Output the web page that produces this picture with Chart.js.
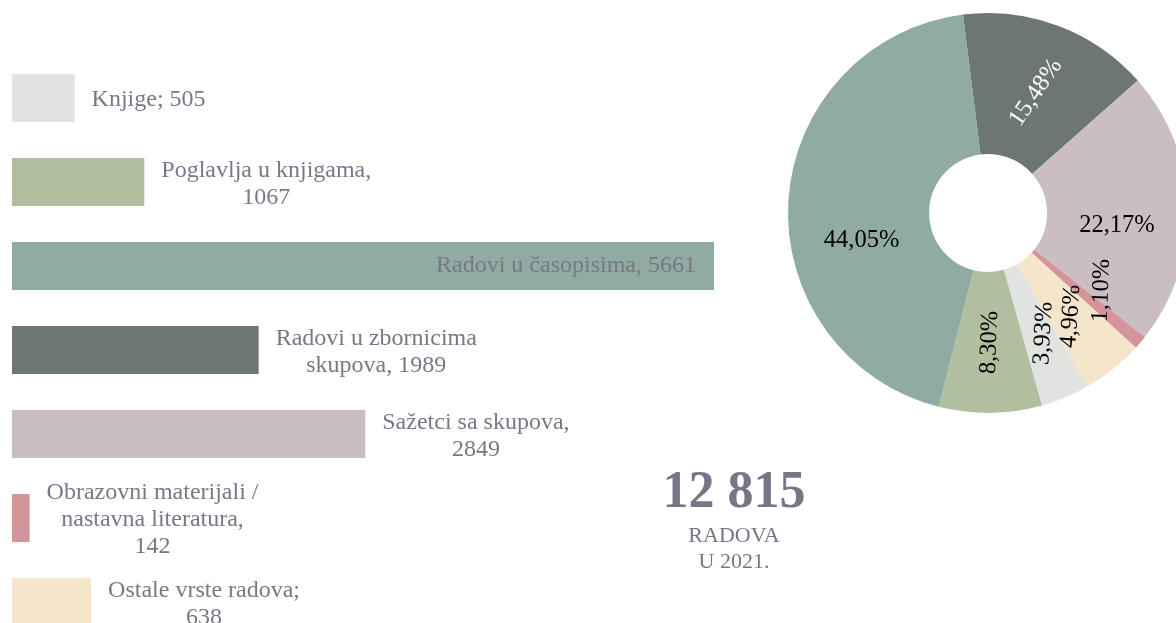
<!DOCTYPE html>
<html>
<head>
<meta charset="utf-8">
<script src="https://cdn.jsdelivr.net/npm/chart.js@4"></script>
<style>
  html, body { margin: 0; padding: 0; background: #fff; }
  body { width: 1176px; height: 623px; overflow: hidden; position: relative; font-family: "Liberation Serif", "Times New Roman", serif; }
  #bars-wrap { position: absolute; left: 0; top: 0; width: 756px; height: 660px; }
  #donut-wrap { position: absolute; left: 778px; top: 3px; width: 420px; height: 420px; }
  .total { position: absolute; left: 634px; width: 200px; text-align: center; color: #757786; }
  #total-num { top: 464px; font-size: 52px; line-height: 52px; font-weight: bold; }
  #total-sub { top: 522px; font-size: 22px; line-height: 26px; }
</style>
</head>
<body>
<div id="bars-wrap"><canvas id="barChart"></canvas></div>
<div id="donut-wrap"><canvas id="donutChart"></canvas></div>
<div class="total" id="total-num">12 815</div>
<div class="total" id="total-sub">RADOVA<br>U 2021.</div>

<script>
const categories = ['Knjige', 'Poglavlja u knjigama', 'Radovi u časopisima', 'Radovi u zbornicima skupova',
  'Sažetci sa skupova', 'Obrazovni materijali / nastavna literatura', 'Ostale vrste radova'];
const counts = [505, 1067, 5661, 1989, 2849, 142, 638];
const barLabels = [
  ['Knjige; 505'],
  ['Poglavlja u knjigama,', '1067'],
  ['Radovi u časopisima, 5661'],
  ['Radovi u zbornicima', 'skupova, 1989'],
  ['Sažetci sa skupova,', '2849'],
  ['Obrazovni materijali /', 'nastavna literatura,', '142'],
  ['Ostale vrste radova;', '638']
];
const colors = ['#e1e3e0', '#b1bf9f', '#90aba2', '#6c7771', '#cbbec2', '#d4959a', '#f5e6cb'];

const textGray = '#777988';
const labelFont = '24px "Liberation Serif", "Times New Roman", serif';

// bar labels: outside the bar end, except the long one which sits inside
const barLabelPlugin = {
  id: 'barLabels',
  afterDatasetsDraw(chart) {
    const ctx = chart.ctx;
    const bars = chart.getDatasetMeta(0).data;
    ctx.save();
    ctx.font = labelFont;
    ctx.fillStyle = textGray;
    ctx.textBaseline = 'middle';
    const lineH = 27;
    bars.forEach((bar, i) => {
      const lines = barLabels[i];
      const top = bar.y + 2 - (lines.length - 1) * lineH / 2;
      if (i === 2) {
        ctx.textAlign = 'right';
        ctx.fillText(lines[0], bar.x - 18, bar.y);
        return;
      }
      const w = Math.max(...lines.map(l => ctx.measureText(l).width));
      const cx = bar.x + 17 + w / 2;
      ctx.textAlign = 'center';
      lines.forEach((l, k) => ctx.fillText(l, cx, top + k * lineH));
    });
    ctx.restore();
  }
};

new Chart(document.getElementById('barChart'), {
  type: 'bar',
  data: {
    labels: categories,
    datasets: [{
      data: counts,
      backgroundColor: colors,
      borderWidth: 0,
      categoryPercentage: 1,
      barPercentage: 0.571
    }]
  },
  options: {
    indexAxis: 'y',
    responsive: true,
    maintainAspectRatio: false,
    animation: false,
    layout: { padding: { left: 12, top: 56, right: 0, bottom: 16 } },
    scales: {
      x: { display: false, min: 0, max: 6000 },
      y: { display: false }
    },
    plugins: { legend: { display: false }, tooltip: { enabled: false } }
  },
  plugins: [barLabelPlugin]
});

// percentage labels on the donut
const total = counts.reduce((a, b) => a + b, 0);
const pctLabels = counts.map(v => (v / total * 100).toFixed(2).replace('.', ',') + '%');
// rotation of each label in degrees, angular nudge and radial nudge
const pctRotation = [-87, -88, 0, -56, 0, -88, -86];
const pctShift = [-2, 0, -16, 1, 7, -6, 0];
const pctPush = [3, 0, 0, 0, 0, 8, 3];
const pctColor = ['#000', '#000', '#000', '#fff', '#000', '#000', '#000'];

const donutLabelPlugin = {
  id: 'donutLabels',
  afterDatasetsDraw(chart) {
    const ctx = chart.ctx;
    const arcs = chart.getDatasetMeta(0).data;
    ctx.save();
    ctx.font = '24.5px "Liberation Serif", "Times New Roman", serif';
    ctx.textAlign = 'center';
    ctx.textBaseline = 'middle';
    arcs.forEach((arc, i) => {
      const p = arc.getProps(['x', 'y', 'startAngle', 'endAngle', 'innerRadius', 'outerRadius']);
      const a = (p.startAngle + p.endAngle) / 2 + pctShift[i] * Math.PI / 180;
      const r = (p.innerRadius + p.outerRadius) / 2 + pctPush[i];
      ctx.save();
      ctx.translate(p.x + Math.cos(a) * r, p.y + Math.sin(a) * r);
      ctx.rotate(pctRotation[i] * Math.PI / 180);
      ctx.fillStyle = pctColor[i];
      ctx.fillText(pctLabels[i], 0, 0);
      ctx.restore();
    });
    ctx.restore();
  }
};

new Chart(document.getElementById('donutChart'), {
  type: 'doughnut',
  data: {
    labels: categories,
    datasets: [{
      data: counts,
      backgroundColor: colors,
      borderWidth: 0
    }]
  },
  options: {
    responsive: true,
    maintainAspectRatio: false,
    animation: false,
    rotation: 150.2,
    cutout: '29.5%',
    layout: { padding: 10 },
    plugins: { legend: { display: false }, tooltip: { enabled: false } }
  },
  plugins: [donutLabelPlugin]
});
</script>
</body>
</html>
